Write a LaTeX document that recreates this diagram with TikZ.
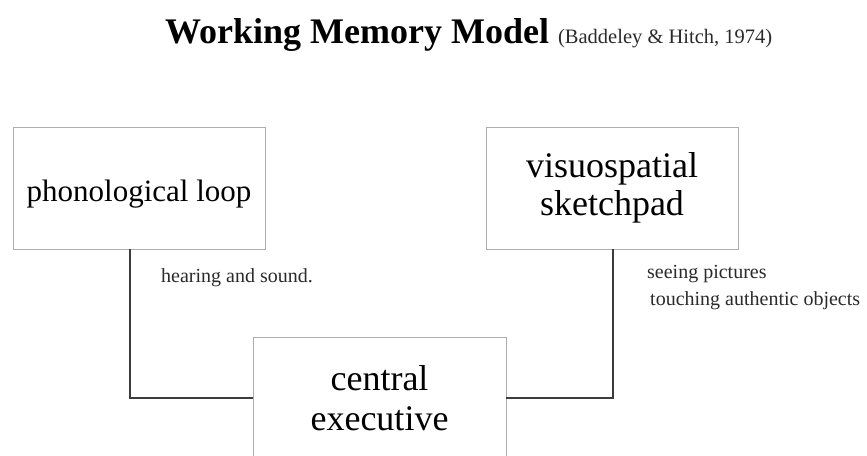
\documentclass[tikz,border=0pt]{standalone}
\usepackage{fontspec}
\setmainfont{Liberation Serif}
\definecolor{boxgray}{HTML}{ADADAD}
\definecolor{linegray}{HTML}{3C3C3C}
\definecolor{notegray}{HTML}{2A2A2A}
\begin{document}
\begin{tikzpicture}[x=1pt,y=-1pt,
  box/.style={draw=boxgray, line width=1pt, rectangle, minimum width=252pt,
    minimum height=122pt, inner sep=0pt, outer sep=0pt, align=center, text=black},
  link/.style={draw=linegray, line width=1.5pt},
  note/.style={text=notegray, font=\fontsize{20}{27}\selectfont, inner sep=0pt, anchor=base west}]
\useasboundingbox (0,0) rectangle (867,455);
\clip (0,0) rectangle (867,455);
\fill[white] (0,0) rectangle (867,455);

\node[anchor=base west, inner sep=0pt] (title) at (165,43)
  {{\fontsize{36}{40}\selectfont\bfseries Working Memory Model}\hspace{9pt}{\fontsize{20.5}{24}\selectfont\color{notegray}(Baddeley \& Hitch, 1974)}};

\node[box, font=\fontsize{31}{36}\selectfont, text height=26pt, text depth=0pt] (phon) at (139,188) {phonological loop};
\node[box, font=\fontsize{36}{38}\selectfont] (visuo) at (612,188) {visuospatial\\sketchpad};
\node[box, minimum width=253pt, font=\fontsize{36}{40}\selectfont] (central) at (379.5,398) {central\\executive};

\draw[link] ([xshift=-9pt]phon.south) |- (central.west);
\draw[link] ([xshift=1pt]visuo.south) |- (central.east);

\node[note] (hear) at (161,282) {hearing and sound.};
\node[note] (see) at (647,278) {seeing pictures};
\node[note] (touch) at (650,305) {touching authentic objects};
\end{tikzpicture}
\end{document}
